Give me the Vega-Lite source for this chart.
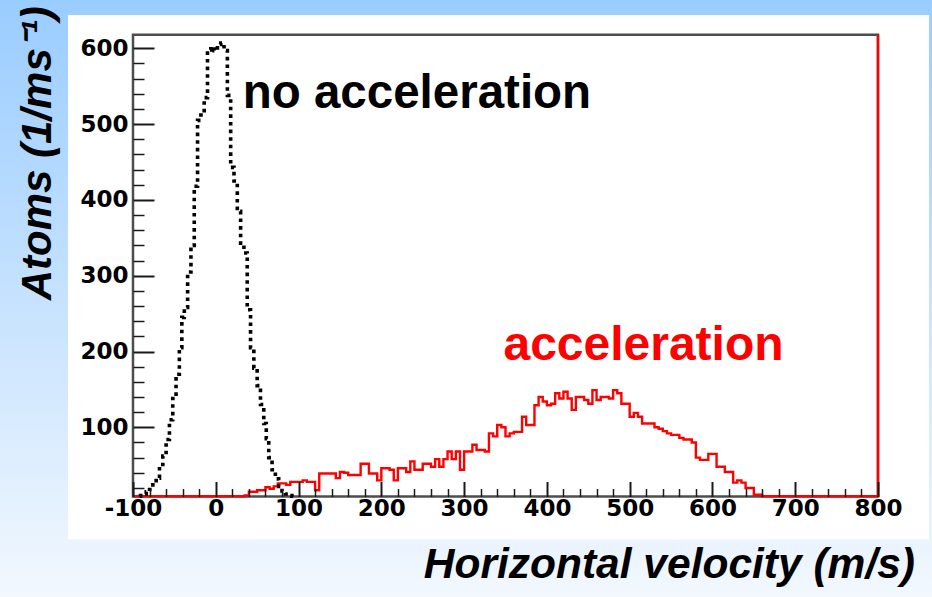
{
  "$schema": "https://vega.github.io/schema/vega-lite/v6.json",
  "width": 932,
  "height": 597,
  "autosize": {"type": "none"},
  "padding": 0,
  "background": "#ffffff",
  "config": {
    "view": {"stroke": null},
    "axis": {"grid": false, "domain": false, "labelFont": "DejaVu Sans", "labelFontWeight": "bold", "labelFontSize": 23, "labelColor": "#000000", "tickColor": "#1a1a1a", "labelFlush": false, "labelOverlap": false, "labelBound": false}
  },
  "datasets": {
    "black": [
      {"v": -92, "n": 9}, {"v": -90, "n": 10}, {"v": -86, "n": 12}, {"v": -82, "n": 15}, {"v": -78, "n": 18},
      {"v": -74, "n": 24}, {"v": -70, "n": 33}, {"v": -66, "n": 48}, {"v": -62, "n": 62}, {"v": -58, "n": 84},
      {"v": -54, "n": 110}, {"v": -50, "n": 138}, {"v": -46, "n": 170}, {"v": -42, "n": 205}, {"v": -40, "n": 245},
      {"v": -36, "n": 258}, {"v": -32, "n": 305}, {"v": -28, "n": 340}, {"v": -24, "n": 418}, {"v": -20, "n": 505},
      {"v": -16, "n": 512}, {"v": -12, "n": 535}, {"v": -8, "n": 598}, {"v": -4, "n": 602}, {"v": 0, "n": 597},
      {"v": 4, "n": 605}, {"v": 8, "n": 607}, {"v": 12, "n": 597}, {"v": 16, "n": 538}, {"v": 20, "n": 443},
      {"v": 24, "n": 425}, {"v": 28, "n": 385}, {"v": 32, "n": 343}, {"v": 36, "n": 330}, {"v": 40, "n": 255},
      {"v": 44, "n": 205}, {"v": 48, "n": 178}, {"v": 52, "n": 155}, {"v": 56, "n": 130}, {"v": 60, "n": 105},
      {"v": 62, "n": 85}, {"v": 66, "n": 60}, {"v": 70, "n": 44}, {"v": 74, "n": 32}, {"v": 78, "n": 22},
      {"v": 82, "n": 16}, {"v": 86, "n": 12}, {"v": 90, "n": 10}, {"v": 94, "n": 9}
    ],
    "red": [
      {"v": -100, "n": 9}, {"v": 35, "n": 10}, {"v": 40, "n": 15}, {"v": 45, "n": 15}, {"v": 50, "n": 17},
      {"v": 55, "n": 17}, {"v": 60, "n": 21}, {"v": 65, "n": 19}, {"v": 70, "n": 22}, {"v": 75, "n": 26},
      {"v": 80, "n": 26}, {"v": 85, "n": 24}, {"v": 90, "n": 28}, {"v": 95, "n": 28}, {"v": 100, "n": 28},
      {"v": 105, "n": 30}, {"v": 110, "n": 28}, {"v": 115, "n": 28}, {"v": 120, "n": 17}, {"v": 125, "n": 39},
      {"v": 130, "n": 39}, {"v": 135, "n": 39}, {"v": 140, "n": 39}, {"v": 145, "n": 33}, {"v": 150, "n": 41},
      {"v": 155, "n": 40}, {"v": 160, "n": 37}, {"v": 165, "n": 37}, {"v": 170, "n": 37}, {"v": 175, "n": 52},
      {"v": 180, "n": 52}, {"v": 185, "n": 39}, {"v": 190, "n": 39}, {"v": 195, "n": 30}, {"v": 200, "n": 46},
      {"v": 205, "n": 46}, {"v": 210, "n": 44}, {"v": 215, "n": 30}, {"v": 220, "n": 46}, {"v": 225, "n": 46},
      {"v": 230, "n": 41}, {"v": 235, "n": 55}, {"v": 240, "n": 44}, {"v": 245, "n": 44}, {"v": 250, "n": 52},
      {"v": 255, "n": 52}, {"v": 260, "n": 48}, {"v": 265, "n": 58}, {"v": 270, "n": 48}, {"v": 275, "n": 58},
      {"v": 280, "n": 68}, {"v": 285, "n": 58}, {"v": 290, "n": 68}, {"v": 295, "n": 44}, {"v": 300, "n": 68},
      {"v": 305, "n": 68}, {"v": 310, "n": 77}, {"v": 315, "n": 70}, {"v": 320, "n": 70}, {"v": 325, "n": 68},
      {"v": 330, "n": 92}, {"v": 335, "n": 88}, {"v": 340, "n": 103}, {"v": 345, "n": 100}, {"v": 350, "n": 88},
      {"v": 355, "n": 92}, {"v": 360, "n": 94}, {"v": 365, "n": 94}, {"v": 370, "n": 114}, {"v": 375, "n": 103},
      {"v": 380, "n": 103}, {"v": 385, "n": 129}, {"v": 390, "n": 140}, {"v": 395, "n": 134}, {"v": 400, "n": 129},
      {"v": 405, "n": 131}, {"v": 410, "n": 145}, {"v": 415, "n": 138}, {"v": 420, "n": 147}, {"v": 425, "n": 138},
      {"v": 430, "n": 123}, {"v": 435, "n": 140}, {"v": 440, "n": 140}, {"v": 445, "n": 136}, {"v": 450, "n": 131},
      {"v": 455, "n": 149}, {"v": 460, "n": 136}, {"v": 465, "n": 140}, {"v": 470, "n": 140}, {"v": 475, "n": 138},
      {"v": 480, "n": 149}, {"v": 485, "n": 145}, {"v": 490, "n": 131}, {"v": 495, "n": 131}, {"v": 500, "n": 114},
      {"v": 505, "n": 119}, {"v": 510, "n": 114}, {"v": 515, "n": 105}, {"v": 520, "n": 105}, {"v": 525, "n": 105},
      {"v": 530, "n": 100}, {"v": 535, "n": 98}, {"v": 540, "n": 95}, {"v": 545, "n": 92}, {"v": 550, "n": 90},
      {"v": 555, "n": 90}, {"v": 560, "n": 86}, {"v": 565, "n": 84}, {"v": 570, "n": 84}, {"v": 575, "n": 80},
      {"v": 580, "n": 60}, {"v": 585, "n": 57}, {"v": 590, "n": 57}, {"v": 595, "n": 65}, {"v": 600, "n": 65},
      {"v": 605, "n": 48}, {"v": 610, "n": 48}, {"v": 615, "n": 41}, {"v": 620, "n": 41}, {"v": 625, "n": 27},
      {"v": 630, "n": 30}, {"v": 635, "n": 27}, {"v": 640, "n": 20}, {"v": 645, "n": 20}, {"v": 650, "n": 11},
      {"v": 655, "n": 11}, {"v": 660, "n": 9}, {"v": 800, "n": 9}
    ]
  },
  "resolve": {"axis": {"x": "independent", "y": "independent"}},
  "layer": [
    {
      "data": {"values": [{}]},
      "mark": {"type": "rect", "fill": {"gradient": "linear", "x1": 0, "y1": 0, "x2": 0, "y2": 1, "stops": [{"offset": 0, "color": "#99CCFF"}, {"offset": 1, "color": "#F3F8FE"}]}, "strokeWidth": 0},
      "encoding": {
        "x": {"datum": -270, "type": "quantitative", "scale": {"domain": [-260.671, 865.235], "nice": false, "zero": false}, "axis": null},
        "x2": {"datum": 875},
        "y": {"datum": 670, "type": "quantitative", "scale": {"domain": [-123.9, 663.78], "nice": false, "zero": false}, "axis": null},
        "y2": {"datum": -130}
      }
    },
    {
      "data": {"values": [{}]},
      "mark": {"type": "rect", "fill": "#ffffff", "strokeWidth": 0},
      "encoding": {
        "x": {"datum": -178.523, "type": "quantitative", "scale": {"domain": [-260.671, 865.235], "nice": false, "zero": false}, "axis": null},
        "x2": {"datum": 861.611},
        "y": {"datum": 643.99, "type": "quantitative", "scale": {"domain": [-123.9, 663.78], "nice": false, "zero": false}, "axis": null},
        "y2": {"datum": -48.03}
      }
    },
    {
      "data": {"values": [{}]},
      "mark": {"type": "rect", "filled": false, "color": "#4d4d4d", "strokeWidth": 2.5},
      "encoding": {
        "x": {"datum": -100, "type": "quantitative", "scale": {"domain": [-260.671, 865.235], "nice": false, "zero": false},
          "axis": {"orient": "bottom", "offset": -100.5, "zindex": 1, "values": [-100, 0, 100, 200, 300, 400, 500, 600, 700, 800], "ticks": false, "labelPadding": 1, "labelExpr": "'' + datum.value", "title": null}},
        "x2": {"datum": 800},
        "y": {"datum": 8.7, "type": "quantitative", "scale": {"domain": [-123.9, 663.78], "nice": false, "zero": false},
          "axis": {"orient": "left", "offset": -133, "zindex": 1, "values": [100, 200, 300, 400, 500, 600], "ticks": false, "labelPadding": 5, "labelExpr": "'' + datum.value", "title": null}},
        "y2": {"datum": 618}
      }
    },
    {
      "data": {"name": "red"},
      "mark": {"type": "line", "interpolate": "step-after", "color": "#FF0000", "strokeWidth": 2.4},
      "encoding": {
        "x": {"field": "v", "type": "quantitative", "scale": {"domain": [-260.671, 865.235], "nice": false, "zero": false},
          "axis": {"orient": "top", "offset": -496.5, "zindex": 1, "values": [-80, -60, -40, -20, 20, 40, 60, 80, 120, 140, 160, 180, 220, 240, 260, 280, 320, 340, 360, 380, 420, 440, 460, 480, 520, 540, 560, 580, 620, 640, 660, 680, 720, 740, 760, 780], "labels": false, "ticks": true, "tickSize": 8, "tickWidth": 1.5, "title": null}},
        "y": {"field": "n", "type": "quantitative", "scale": {"domain": [-123.9, 663.78], "nice": false, "zero": false},
          "axis": {"orient": "right", "offset": -799, "zindex": 1, "values": [20, 40, 60, 80, 120, 140, 160, 180, 220, 240, 260, 280, 320, 340, 360, 380, 420, 440, 460, 480, 520, 540, 560, 580], "labels": false, "ticks": true, "tickSize": 11, "tickWidth": 1.5, "title": null}}
      }
    },
    {
      "data": {"name": "black"},
      "mark": {"type": "line", "interpolate": "step", "color": "#000000", "strokeWidth": 3.6, "strokeDash": [3.6, 4], "strokeCap": "butt"},
      "encoding": {
        "x": {"field": "v", "type": "quantitative", "scale": {"domain": [-260.671, 865.235], "nice": false, "zero": false},
          "axis": {"orient": "top", "offset": -496.5, "zindex": 1, "values": [-100, 0, 100, 200, 300, 400, 500, 600, 700, 800], "labels": false, "ticks": true, "tickSize": 15, "tickWidth": 2, "title": null}},
        "y": {"field": "n", "type": "quantitative", "scale": {"domain": [-123.9, 663.78], "nice": false, "zero": false},
          "axis": {"orient": "right", "offset": -799, "zindex": 1, "values": [100, 200, 300, 400, 500, 600], "labels": false, "ticks": true, "tickSize": 21, "tickWidth": 2, "title": null}}
      }
    },
    {
      "data": {"values": [{}]},
      "mark": {"type": "rule", "color": "#FF0000", "strokeWidth": 2.5},
      "encoding": {
        "x": {"datum": 800, "type": "quantitative", "scale": {"domain": [-260.671, 865.235], "nice": false, "zero": false}, "axis": null},
        "y": {"datum": 8.7, "type": "quantitative", "scale": {"domain": [-123.9, 663.78], "nice": false, "zero": false}, "axis": null},
        "y2": {"datum": 618}
      }
    },
    {
      "data": {"values": [{}]},
      "mark": {"type": "text", "text": "no acceleration", "align": "left", "baseline": "alphabetic", "font": "Liberation Sans", "fontSize": 47.5, "fontWeight": "bold", "color": "#000000"},
      "encoding": {
        "x": {"datum": 32.5, "type": "quantitative", "scale": {"domain": [-260.671, 865.235], "nice": false, "zero": false}, "axis": null},
        "y": {"datum": 520.9, "type": "quantitative", "scale": {"domain": [-123.9, 663.78], "nice": false, "zero": false}, "axis": null}
      }
    },
    {
      "data": {"values": [{}]},
      "mark": {"type": "text", "text": "acceleration", "align": "left", "baseline": "alphabetic", "font": "Liberation Sans", "fontSize": 48, "fontWeight": "bold", "color": "#FF0000"},
      "encoding": {
        "x": {"datum": 347.5, "type": "quantitative", "scale": {"domain": [-260.671, 865.235], "nice": false, "zero": false}, "axis": null},
        "y": {"datum": 188.8, "type": "quantitative", "scale": {"domain": [-123.9, 663.78], "nice": false, "zero": false}, "axis": null}
      }
    },
    {
      "data": {"values": [{}]},
      "mark": {"type": "text", "text": "Horizontal velocity (m/s)", "align": "right", "baseline": "alphabetic", "font": "Liberation Sans", "fontSize": 42.5, "fontWeight": "bold", "fontStyle": "italic", "color": "#000000"},
      "encoding": {
        "x": {"datum": 844.7, "type": "quantitative", "scale": {"domain": [-260.671, 865.235], "nice": false, "zero": false}, "axis": null},
        "y": {"datum": -99.23, "type": "quantitative", "scale": {"domain": [-123.9, 663.78], "nice": false, "zero": false}, "axis": null}
      }
    },
    {
      "data": {"values": [{}]},
      "mark": {"type": "text", "text": "Atoms (1/ms⁻¹)", "angle": 270, "align": "center", "baseline": "alphabetic", "font": "Liberation Sans", "fontSize": 42, "fontWeight": "bold", "fontStyle": "italic", "color": "#000000"},
      "encoding": {
        "x": {"datum": -198.5, "type": "quantitative", "scale": {"domain": [-260.671, 865.235], "nice": false, "zero": false}, "axis": null},
        "y": {"datum": 461.5, "type": "quantitative", "scale": {"domain": [-123.9, 663.78], "nice": false, "zero": false}, "axis": null}
      }
    }
  ]
}
